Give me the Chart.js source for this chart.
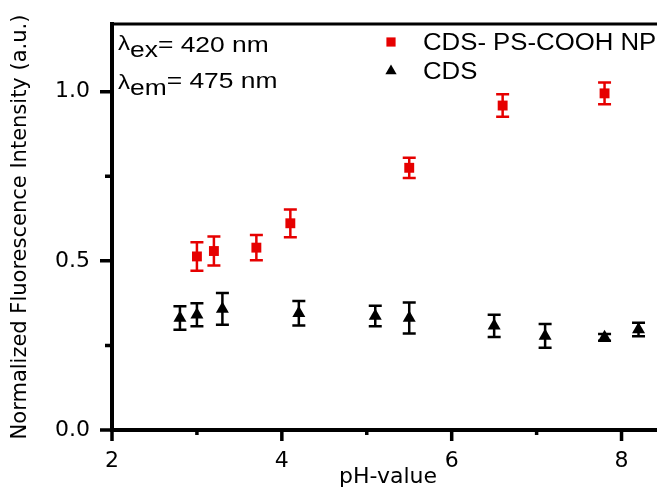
<!DOCTYPE html>
<html>
<head>
<meta charset="utf-8">
<script src="https://cdn.jsdelivr.net/npm/chart.js@4.4.0/dist/chart.umd.min.js"></script>
<style>
  html, body { margin: 0; padding: 0; background: #fff; overflow: hidden; }
  #wrap { width: 680px; height: 488px; }
</style>
</head>
<body>
<div id="wrap"><canvas id="phChart" width="680" height="488"></canvas></div>
<script>
// ---- data ----
const phRed = [3.0, 3.2, 3.7, 4.1, 5.5, 6.6, 7.8];
const intensityRed = [0.513, 0.529, 0.539, 0.611, 0.775, 0.959, 0.995];
const errRed = [0.042, 0.043, 0.037, 0.041, 0.030, 0.033, 0.032];

const phBlack = [2.8, 3.0, 3.3, 4.2, 5.1, 5.5, 6.5, 7.1, 7.8, 8.2];
const intensityBlack = [0.331, 0.341, 0.358, 0.345, 0.337, 0.331, 0.308, 0.278, 0.274, 0.297];
const errBlack = [0.035, 0.034, 0.047, 0.036, 0.030, 0.046, 0.033, 0.035, 0.010, 0.020];

const xMajorTicks = [2, 4, 6, 8];
const xMinorTicks = [3, 5, 7];
const yMajorTicks = [0.0, 0.5, 1.0];
const yMinorTicks = [0.25, 0.75];

const RED = "#e60000";
const BLACK = "#000000";
const TEXT_FONT = "Liberation Sans";

/*************************************************
 * Error bars (drawn under the markers)
 *************************************************/
const errorBars = {
    id: "errorBars",
    beforeDatasetsDraw(chart) {
        const { ctx, scales: { x, y } } = chart;
        chart.data.datasets.forEach(ds => {
            ctx.save();
            ctx.strokeStyle = ds.borderColor;
            ctx.lineWidth = 2.5;
            ds.data.forEach((p, i) => {
                const px = x.getPixelForValue(p.x);
                const top = y.getPixelForValue(p.y + ds.errors[i]);
                const bot = y.getPixelForValue(p.y - ds.errors[i]);
                ctx.beginPath();
                ctx.moveTo(px, top); ctx.lineTo(px, bot);
                ctx.moveTo(px - 6.5, top); ctx.lineTo(px + 6.5, top);
                ctx.moveTo(px - 6.5, bot); ctx.lineTo(px + 6.5, bot);
                ctx.stroke();
            });
            ctx.restore();
        });
    }
};

// text with a little horizontal stretch, returns the end x
function wideText(ctx, str, x, y, size, hs) {
    ctx.save();
    ctx.font = size + "px '" + TEXT_FONT + "'";
    ctx.textBaseline = "alphabetic";
    ctx.textAlign = "left";
    const w = ctx.measureText(str).width * hs;
    ctx.translate(x, y);
    ctx.scale(hs, 1);
    ctx.fillText(str, 0, 0);
    ctx.restore();
    return x + w;
}

/*************************************************
 * Frame: top border, tick marks, legend, labels
 *************************************************/
const frame = {
    id: "frame",
    afterDraw(chart) {
        const { ctx, chartArea: area, scales: { x, y } } = chart;
        ctx.save();
        ctx.strokeStyle = "#000";
        ctx.fillStyle = "#000";

        // top border
        ctx.lineWidth = 3;
        ctx.beginPath();
        ctx.moveTo(area.left - 2, area.top);
        ctx.lineTo(chart.width, area.top);
        ctx.stroke();

        // tick marks, outward
        ctx.lineWidth = 3.5;
        ctx.beginPath();
        yMajorTicks.forEach(v => {
            const py = y.getPixelForValue(v);
            ctx.moveTo(area.left, py); ctx.lineTo(area.left - 12, py);
        });
        yMinorTicks.forEach(v => {
            const py = y.getPixelForValue(v);
            ctx.moveTo(area.left, py); ctx.lineTo(area.left - 7, py);
        });
        xMajorTicks.forEach(v => {
            const px = x.getPixelForValue(v);
            ctx.moveTo(px, area.bottom); ctx.lineTo(px, area.bottom + 11);
        });
        xMinorTicks.forEach(v => {
            const px = x.getPixelForValue(v);
            ctx.moveTo(px, area.bottom); ctx.lineTo(px, area.bottom + 5);
        });
        ctx.stroke();

        // legend
        chart.data.datasets.forEach((ds, i) => {
            const ly = 42 + i * 29;
            ctx.fillStyle = ds.backgroundColor;
            Chart.helpers.drawPoint(ctx, {
                pointStyle: ds.pointStyle, radius: 6.5, rotation: 0, borderWidth: 0
            }, 391, ly);
            ctx.fillStyle = "#000";
            wideText(ctx, ds.label, 423, ly + 8, 23, 1.12);
        });

        // excitation / emission wavelengths
        const hs = 1.2;
        ctx.fillStyle = "#000";
        let cx = wideText(ctx, "\u03bb", 118, 50, 20, hs);
        cx = wideText(ctx, "ex", cx, 57, 22, hs);
        wideText(ctx, "= 420 nm", cx, 52, 22, hs);
        cx = wideText(ctx, "\u03bb", 118, 89, 20, hs);
        cx = wideText(ctx, "em", cx, 95, 22, hs);
        wideText(ctx, "= 475 nm", cx, 88, 22, hs);

        ctx.restore();
    }
};

/*************************************************
 * Chart
 *************************************************/
const ctx = document.getElementById("phChart");

new Chart(ctx, {
    type: "scatter",
    data: {
        datasets: [
            {
                label: "CDS- PS-COOH NP",
                data: phRed.map((v, i) => ({ x: v, y: intensityRed[i] })),
                errors: errRed,
                pointStyle: "rect",
                pointRadius: 7,
                backgroundColor: RED,
                borderColor: RED,
                borderWidth: 0
            },
            {
                label: "CDS",
                data: phBlack.map((v, i) => ({ x: v, y: intensityBlack[i] })),
                errors: errBlack,
                pointStyle: "triangle",
                pointRadius: 7.5,
                backgroundColor: BLACK,
                borderColor: BLACK,
                borderWidth: 0
            }
        ]
    },
    options: {
        responsive: false,
        animation: false,
        layout: { padding: { top: 24, right: 16, left: 0, bottom: 0 } },
        plugins: {
            legend: { display: false },
            tooltip: { enabled: false }
        },
        scales: {
            x: {
                type: "linear",
                min: 2,
                max: 8.5,
                afterBuildTicks: s => { s.ticks = xMajorTicks.map(v => ({ value: v })); },
                afterFit: s => { s.height = 58; s.paddingLeft = 0; s.paddingRight = 0; },
                grid: { display: false, drawTicks: false },
                border: { display: true, color: "#000", width: 4 },
                ticks: {
                    color: "#000",
                    padding: 18,
                    maxRotation: 0,
                    autoSkip: false,
                    font: { family: "DejaVu Sans", size: 22 },
                    callback: v => String(v)
                },
                title: {
                    display: true,
                    text: "pH-value",
                    color: "#000",
                    font: { family: "DejaVu Sans", size: 22 },
                    padding: { top: 0, bottom: -2 }
                }
            },
            y: {
                type: "linear",
                min: 0,
                max: 1.2,
                afterBuildTicks: s => { s.ticks = yMajorTicks.map(v => ({ value: v })); },
                afterFit: s => { s.width = 112; s.paddingTop = 0; s.paddingBottom = 0; },
                grid: { display: false, drawTicks: false },
                border: { display: true, color: "#000", width: 4 },
                ticks: {
                    color: "#000",
                    padding: 22,
                    autoSkip: false,
                    font: { family: "DejaVu Sans", size: 22 },
                    callback: v => v.toFixed(1)
                },
                title: {
                    display: true,
                    text: "Normalized Fluorescence Intensity (a.u.)",
                    color: "#000",
                    font: { family: "DejaVu Sans", size: 21 },
                    padding: { top: 8, bottom: 0 }
                }
            }
        }
    },
    plugins: [errorBars, frame]
});
</script>
</body>
</html>
